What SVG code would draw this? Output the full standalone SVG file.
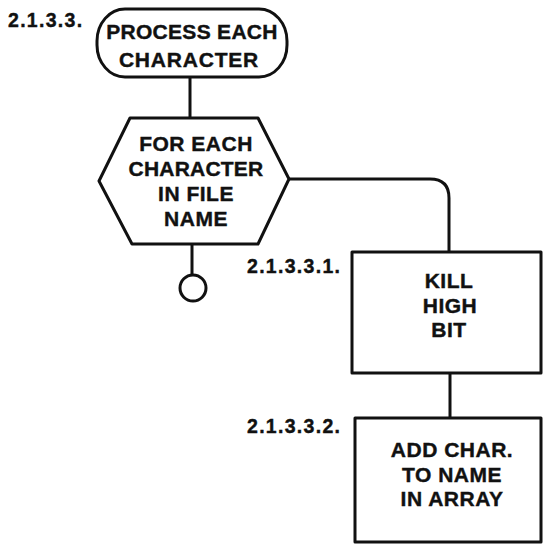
<svg xmlns="http://www.w3.org/2000/svg" width="545" height="547" viewBox="0 0 545 547">
  <style>
    .shape { fill: #ffffff; stroke: #111111; stroke-width: 3; stroke-linejoin: round; }
    .wire { fill: none; stroke: #111111; stroke-width: 3; }
    .lbl { font-family: "Liberation Sans", Arial, sans-serif; font-weight: bold; font-size: 19.5px; letter-spacing: 1.3px; fill: #111111; stroke: #111111; stroke-width: 0.4; }
    .txt { font-family: "Liberation Sans", Arial, sans-serif; font-weight: bold; font-size: 21px; letter-spacing: 0.5px; fill: #111111; stroke: #111111; stroke-width: 0.4; text-anchor: middle; }
  </style>
  <rect width="545" height="547" fill="#ffffff"/>

  <!-- connectors -->
  <g id="connectors">
    <path class="wire" d="M190,77 V118"/>
    <path class="wire" d="M289,179 H430 Q449,179 449,198 V252"/>
    <path class="wire" d="M192,244 V275"/>
    <path class="wire" d="M450,373 V418"/>
  </g>

  <!-- 2.1.3.3. start terminal -->
  <g id="process-each-character">
    <text class="lbl" x="8" y="27">2.1.3.3.</text>
    <rect class="shape" x="97" y="9" width="190" height="68" rx="28" ry="32"/>
    <text class="txt" x="192" y="39" style="letter-spacing:0.3px">PROCESS EACH</text>
    <text class="txt" x="189" y="67" style="letter-spacing:0.8px">CHARACTER</text>
  </g>

  <!-- loop over file name characters -->
  <g id="for-each-character">
    <polygon class="shape" points="130,118 258,118 289,179 258,244 132,244 99,181"/>
    <text class="txt" x="196" y="151">FOR EACH</text>
    <text class="txt" x="196" y="176" style="letter-spacing:0.2px">CHARACTER</text>
    <text class="txt" x="196" y="201">IN FILE</text>
    <text class="txt" x="196" y="226">NAME</text>
  </g>

  <!-- loop end -->
  <g id="loop-end">
    <circle class="shape" cx="193" cy="288" r="13"/>
  </g>

  <!-- 2.1.3.3.1. -->
  <g id="kill-high-bit">
    <text class="lbl" x="247" y="273">2.1.3.3.1.</text>
    <rect class="shape" x="352" y="252" width="189" height="121"/>
    <text class="txt" x="449" y="288">KILL</text>
    <text class="txt" x="450" y="313">HIGH</text>
    <text class="txt" x="449" y="337">BIT</text>
  </g>

  <!-- 2.1.3.3.2. -->
  <g id="add-char-to-name">
    <text class="lbl" x="247" y="433">2.1.3.3.2.</text>
    <rect class="shape" x="355" y="418" width="186" height="124"/>
    <text class="txt" x="452" y="457">ADD CHAR.</text>
    <text class="txt" x="452" y="482">TO NAME</text>
    <text class="txt" x="452" y="506">IN ARRAY</text>
  </g>
</svg>
